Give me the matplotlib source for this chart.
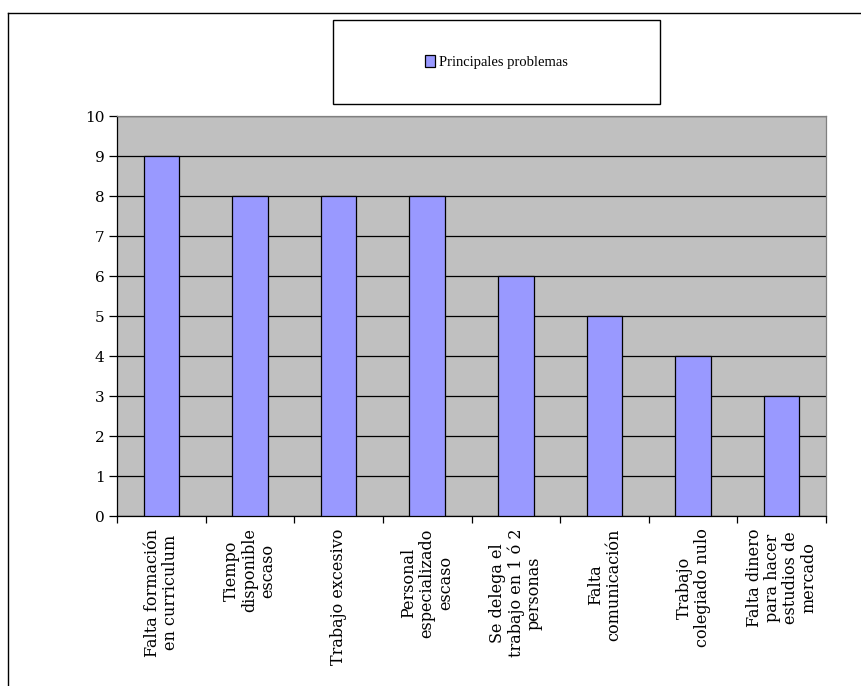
import matplotlib
matplotlib.use("Agg")
import matplotlib.pyplot as plt
from matplotlib.patches import Rectangle, Patch
from matplotlib.lines import Line2D
import numpy as np

categories = [
    "Falta formación\nen curriculum",
    "Tiempo\ndisponible\nescaso",
    "Trabajo excesivo",
    "Personal\nespecializado\nescaso",
    "Se delega el\ntrabajo en 1 ó 2\npersonas",
    "Falta\ncomunicación",
    "Trabajo\ncolegiado nulo",
    "Falta dinero\npara hacer\nestudios de\nmercado",
]
values = [9, 8, 8, 8, 6, 5, 4, 3]
series_name = "Principales problemas"
yticks = list(range(0, 11))

W, H = 861, 686
fig = plt.figure(figsize=(W / 100, H / 100), dpi=100)
fig.patch.set_facecolor("white")

# outer chart frame (cut off at right/bottom)
fig.add_artist(Line2D([7.5 / W, 1.0], [1 - 12.5 / H, 1 - 12.5 / H], color="black", lw=1.0))
fig.add_artist(Line2D([7.5 / W, 7.5 / W], [0.0, 1 - 12.5 / H], color="black", lw=1.0))

ax = fig.add_axes([117 / W, 1 - 516 / H, (826 - 117) / W, (516 - 116) / H])
ax.set_facecolor("#C0C0C0")
x = np.arange(len(categories))
ax.set_axisbelow(True)
ax.grid(axis="y", color="black", lw=0.9)
ax.bar(x, values, width=0.4, color="#9999FF", edgecolor="black", linewidth=0.9, zorder=3)
ax.set_xlim(-0.5, len(categories) - 0.5)
ax.set_ylim(0, 10)
ax.set_yticks(yticks)
ax.set_yticklabels([str(v) for v in yticks], fontfamily="DejaVu Serif", fontsize=11)

ax.set_xticks(x)
ax.set_xticklabels(categories, rotation=90, fontfamily="DejaVu Serif", fontsize=11.5,
                   ha="center", va="top", multialignment="center", linespacing=1.1)
ax.tick_params(axis="x", length=0, pad=9)
ax.set_xticks(np.arange(-0.5, len(categories) + 0.5, 1), minor=True)
ax.tick_params(axis="x", which="minor", length=5, width=0.9, color="black")
ax.tick_params(axis="y", length=6, width=0.9, pad=3)

for s in ["left", "bottom"]:
    ax.spines[s].set_color("black")
    ax.spines[s].set_linewidth(0.9)
for s in ["top", "right"]:
    ax.spines[s].set_color("#808080")
    ax.spines[s].set_linewidth(0.9)

# legend box
lx0, lx1, ly0, ly1 = 333, 660, 20, 104
fig.add_artist(Rectangle((lx0 / W, 1 - ly1 / H), (lx1 - lx0) / W, (ly1 - ly0) / H,
                         transform=fig.transFigure, facecolor="white",
                         edgecolor="black", lw=1.0))
fig.legend(handles=[Patch(facecolor="#9999FF", edgecolor="black", lw=0.9, label=series_name)],
           loc="center", bbox_to_anchor=(lx0 / W, 1 - ly1 / H, (lx1 - lx0) / W, (ly1 - ly0) / H),
           frameon=False, prop={"family": "Liberation Serif", "size": 10.5},
           handlelength=0.7, handleheight=0.9, handletextpad=0.3)

fig.savefig("out.png", dpi=100)
